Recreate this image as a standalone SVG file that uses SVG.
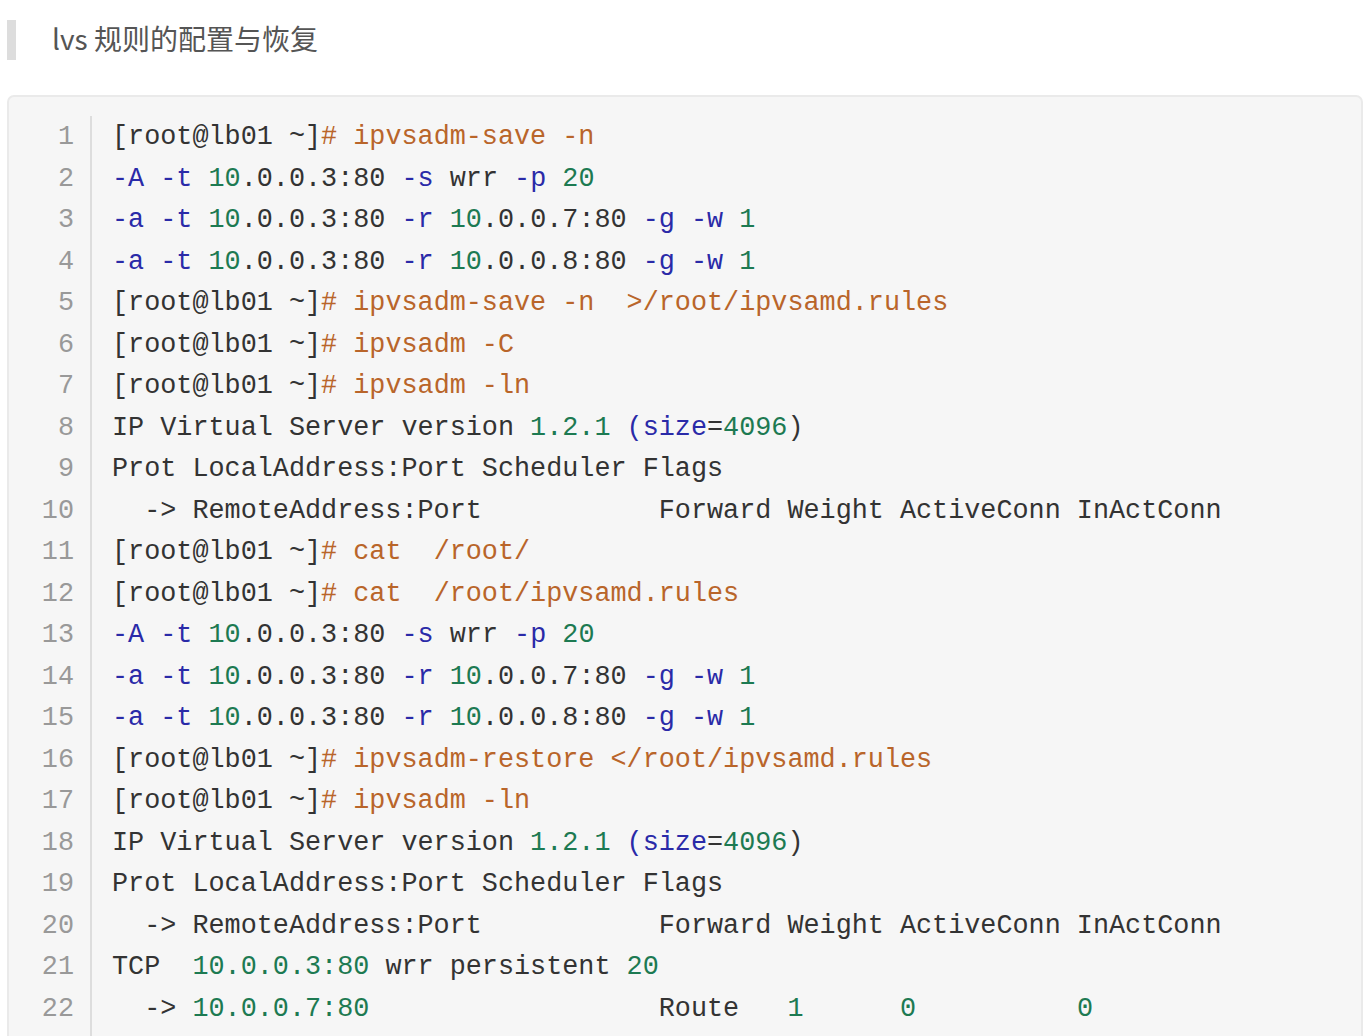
<svg xmlns="http://www.w3.org/2000/svg" width="1366" height="1036" viewBox="0 0 1366 1036">
<style>
.c{font-family:"Liberation Mono",monospace;font-size:26.8px;fill:#333;white-space:pre}
.n{font-family:"Liberation Mono",monospace;font-size:26.8px;fill:#999;text-anchor:end}
.o{fill:#b9652a}.b{fill:#2a2aa8}.g{fill:#1d7a52}
</style>
<rect width="1366" height="1036" fill="#fff"/>
<g id="title"><rect x="7" y="20" width="9" height="40" fill="#ddd"/>
<text x="52" y="50" font-family="Noto Sans CJK SC, Noto Sans, sans-serif" font-size="28" fill="#555">lvs 规则的配置与恢复</text></g>
<g id="codebox"><rect x="8" y="96" width="1354" height="960" rx="6" fill="#f6f6f6" stroke="#eaeaea" stroke-width="2"/>
<line x1="91" y1="116" x2="91" y2="1036" stroke="#ddd" stroke-width="2"/></g>
<g id="nums">
<text class="n" x="74" y="144">1</text><text class="n" x="74" y="185.5">2</text><text class="n" x="74" y="227">3</text><text class="n" x="74" y="268.5">4</text><text class="n" x="74" y="310">5</text><text class="n" x="74" y="351.5">6</text><text class="n" x="74" y="393">7</text><text class="n" x="74" y="434.5">8</text><text class="n" x="74" y="476">9</text><text class="n" x="74" y="517.5">10</text><text class="n" x="74" y="559">11</text><text class="n" x="74" y="600.5">12</text><text class="n" x="74" y="642">13</text><text class="n" x="74" y="683.5">14</text><text class="n" x="74" y="725">15</text><text class="n" x="74" y="766.5">16</text><text class="n" x="74" y="808">17</text><text class="n" x="74" y="849.5">18</text><text class="n" x="74" y="891">19</text><text class="n" x="74" y="932.5">20</text><text class="n" x="74" y="974">21</text><text class="n" x="74" y="1015.5">22</text>
</g>
<g id="code" xml:space="preserve">
<text class="c" x="112" y="144">[root@lb01 ~]<tspan class="o"># ipvsadm-save -n</tspan></text>
<text class="c" x="112" y="185.5"><tspan class="b">-A -t</tspan> <tspan class="g">10</tspan>.0.0.3:80 <tspan class="b">-s</tspan> wrr <tspan class="b">-p</tspan> <tspan class="g">20</tspan></text>
<text class="c" x="112" y="227"><tspan class="b">-a -t</tspan> <tspan class="g">10</tspan>.0.0.3:80 <tspan class="b">-r</tspan> <tspan class="g">10</tspan>.0.0.7:80 <tspan class="b">-g -w</tspan> <tspan class="g">1</tspan></text>
<text class="c" x="112" y="268.5"><tspan class="b">-a -t</tspan> <tspan class="g">10</tspan>.0.0.3:80 <tspan class="b">-r</tspan> <tspan class="g">10</tspan>.0.0.8:80 <tspan class="b">-g -w</tspan> <tspan class="g">1</tspan></text>
<text class="c" x="112" y="310">[root@lb01 ~]<tspan class="o"># ipvsadm-save -n  &gt;/root/ipvsamd.rules</tspan></text>
<text class="c" x="112" y="351.5">[root@lb01 ~]<tspan class="o"># ipvsadm -C</tspan></text>
<text class="c" x="112" y="393">[root@lb01 ~]<tspan class="o"># ipvsadm -ln</tspan></text>
<text class="c" x="112" y="434.5">IP Virtual Server version <tspan class="g">1.2.1</tspan> <tspan class="b">(size</tspan>=<tspan class="g">4096</tspan>)</text>
<text class="c" x="112" y="476">Prot LocalAddress:Port Scheduler Flags</text>
<text class="c" x="112" y="517.5">  -&gt; RemoteAddress:Port           Forward Weight ActiveConn InActConn</text>
<text class="c" x="112" y="559">[root@lb01 ~]<tspan class="o"># cat  /root/</tspan></text>
<text class="c" x="112" y="600.5">[root@lb01 ~]<tspan class="o"># cat  /root/ipvsamd.rules</tspan></text>
<text class="c" x="112" y="642"><tspan class="b">-A -t</tspan> <tspan class="g">10</tspan>.0.0.3:80 <tspan class="b">-s</tspan> wrr <tspan class="b">-p</tspan> <tspan class="g">20</tspan></text>
<text class="c" x="112" y="683.5"><tspan class="b">-a -t</tspan> <tspan class="g">10</tspan>.0.0.3:80 <tspan class="b">-r</tspan> <tspan class="g">10</tspan>.0.0.7:80 <tspan class="b">-g -w</tspan> <tspan class="g">1</tspan></text>
<text class="c" x="112" y="725"><tspan class="b">-a -t</tspan> <tspan class="g">10</tspan>.0.0.3:80 <tspan class="b">-r</tspan> <tspan class="g">10</tspan>.0.0.8:80 <tspan class="b">-g -w</tspan> <tspan class="g">1</tspan></text>
<text class="c" x="112" y="766.5">[root@lb01 ~]<tspan class="o"># ipvsadm-restore &lt;/root/ipvsamd.rules</tspan></text>
<text class="c" x="112" y="808">[root@lb01 ~]<tspan class="o"># ipvsadm -ln</tspan></text>
<text class="c" x="112" y="849.5">IP Virtual Server version <tspan class="g">1.2.1</tspan> <tspan class="b">(size</tspan>=<tspan class="g">4096</tspan>)</text>
<text class="c" x="112" y="891">Prot LocalAddress:Port Scheduler Flags</text>
<text class="c" x="112" y="932.5">  -&gt; RemoteAddress:Port           Forward Weight ActiveConn InActConn</text>
<text class="c" x="112" y="974">TCP  <tspan class="g">10.0.0.3:80</tspan> wrr persistent <tspan class="g">20</tspan></text>
<text class="c" x="112" y="1015.5">  -&gt; <tspan class="g">10.0.0.7:80</tspan>                  Route   <tspan class="g">1</tspan>      <tspan class="g">0</tspan>          <tspan class="g">0</tspan></text>
</g>
</svg>
